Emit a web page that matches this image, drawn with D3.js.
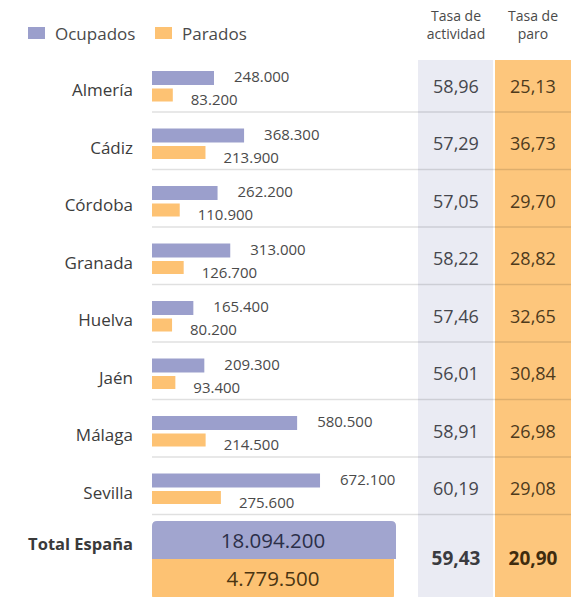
<!DOCTYPE html>
<html>
<head>
<meta charset="utf-8">
<script src="https://cdn.jsdelivr.net/npm/d3@7"></script>
<style>
  body { margin: 0; background: #fff; }
  svg text { font-family: "Open Sans", sans-serif; }
</style>
</head>
<body>
<div class="svg-div"></div>
<script>
// data
var regions = ["Almería", "Cádiz", "Córdoba", "Granada", "Huelva", "Jaén", "Málaga", "Sevilla"];
var ocupados = [248000, 368300, 262200, 313000, 165400, 209300, 580500, 672100];
var parados = [83200, 213900, 110900, 126700, 80200, 93400, 214500, 275600];
var tasaActividad = [58.96, 57.29, 57.05, 58.22, 57.46, 56.01, 58.91, 60.19];
var tasaParo = [25.13, 36.73, 29.70, 28.82, 32.65, 30.84, 26.98, 29.08];
var totalLabel = "Total España";
var totalOcupados = 18094200;
var totalParados = 4779500;
var totalActividad = 59.43;
var totalParo = 20.90;

var es = d3.formatLocale({decimal: ",", thousands: ".", grouping: [3], currency: ["", " €"]});
var fmtInt = es.format(",d");
var fmtDec = es.format(".2f");

var w = 577, h = 597;
var colOcu = "#9b9fcc", colPar = "#fdc273";
var colGray = "#eaebf3", colOrange = "#fdc67c";

var svg = d3.select(".svg-div")
	.append("svg")
	.attr("width", w)
	.attr("height", h);

// scales
var x = d3.scaleLinear().domain([0, 1000000]).range([152, 402]);
var y = d3.scaleBand().domain(regions).range([57.75, 57.75 + 57.5 * regions.length]);
var mid = function(r) { return y(r) + y.bandwidth() / 2; };

var rows = regions.map(function(r, i) {
	return {name: r, ocu: ocupados[i], par: parados[i], act: tasaActividad[i], paro: tasaParo[i]};
});

// column backgrounds
svg.append("rect").attr("x", 418).attr("y", 60).attr("width", 75).attr("height", h - 60).attr("fill", colGray);
svg.append("rect").attr("x", 495).attr("y", 60).attr("width", 76).attr("height", h - 60).attr("fill", colOrange);

// legend
var legend = [{k: "Ocupados", c: colOcu, x: 28}, {k: "Parados", c: colPar, x: 155}];
svg.selectAll(".leg-box").data(legend).enter().append("rect")
	.attr("x", function(d) { return d.x; })
	.attr("y", 27).attr("width", 17).attr("height", 12)
	.attr("fill", function(d) { return d.c; });
svg.selectAll(".leg-txt").data(legend).enter().append("text")
	.attr("x", function(d) { return d.x + 27; })
	.attr("y", 33)
	.attr("dominant-baseline", "central")
	.attr("font-size", 17).attr("fill", "#4a4a4a")
	.text(function(d) { return d.k; });

// headers
var heads = [{x: 456, l: ["Tasa de", "actividad"]}, {x: 533, l: ["Tasa de", "paro"]}];
heads.forEach(function(hd) {
	hd.l.forEach(function(t, j) {
		svg.append("text")
			.attr("x", hd.x).attr("y", 15 + j * 18)
			.attr("text-anchor", "middle").attr("dominant-baseline", "central")
			.attr("font-size", 14).attr("fill", "#4a4a4a")
			.text(t);
	});
});

// separators
svg.selectAll(".sep").data(rows).enter().append("line")
	.attr("x1", 152).attr("x2", 571)
	.attr("y1", function(d) { return mid(d.name) + 25.5; })
	.attr("y2", function(d) { return mid(d.name) + 25.5; })
	.attr("stroke", "#000").attr("stroke-opacity", 0.12).attr("stroke-width", 1.5);

// region labels
svg.selectAll(".reg").data(rows).enter().append("text")
	.attr("x", 133)
	.attr("y", function(d) { return mid(d.name) + 3; })
	.attr("text-anchor", "end").attr("dominant-baseline", "central")
	.attr("font-size", 17).attr("fill", "#3c3c3c")
	.text(function(d) { return d.name; });

// bars
svg.selectAll(".bar-ocu").data(rows).enter().append("rect")
	.attr("x", x(0))
	.attr("y", function(d) { return mid(d.name) - 15.5; })
	.attr("width", function(d) { return x(d.ocu) - x(0); })
	.attr("height", 14)
	.attr("fill", colOcu);
svg.selectAll(".bar-par").data(rows).enter().append("rect")
	.attr("x", x(0))
	.attr("y", function(d) { return mid(d.name) + 2; })
	.attr("width", function(d) { return x(d.par) - x(0); })
	.attr("height", 13)
	.attr("fill", colPar);

// bar values
svg.selectAll(".val-ocu").data(rows).enter().append("text")
	.attr("x", function(d) { return x(d.ocu) + 20; })
	.attr("y", function(d) { return mid(d.name) - 10.5; })
	.attr("dominant-baseline", "central")
	.attr("font-size", 15).attr("fill", "#4a4a4a")
	.text(function(d) { return fmtInt(d.ocu); });
svg.selectAll(".val-par").data(rows).enter().append("text")
	.attr("x", function(d) { return x(d.par) + 18; })
	.attr("y", function(d) { return mid(d.name) + 12.5; })
	.attr("dominant-baseline", "central")
	.attr("font-size", 15).attr("fill", "#4a4a4a")
	.text(function(d) { return fmtInt(d.par); });

// rates
svg.selectAll(".act").data(rows).enter().append("text")
	.attr("x", 456)
	.attr("y", function(d) { return mid(d.name) - 1; })
	.attr("text-anchor", "middle").attr("dominant-baseline", "central")
	.attr("font-size", 18).attr("fill", "#45464c")
	.text(function(d) { return fmtDec(d.act); });
svg.selectAll(".paro").data(rows).enter().append("text")
	.attr("x", 533)
	.attr("y", function(d) { return mid(d.name) - 1; })
	.attr("text-anchor", "middle").attr("dominant-baseline", "central")
	.attr("font-size", 18).attr("fill", "#4d3a1c")
	.text(function(d) { return fmtDec(d.paro); });

// total row
var r = 5;
function topRounded(x0, y0, x1, y1) {
	return "M" + x0 + "," + y1 + "V" + (y0 + r) + "Q" + x0 + "," + y0 + " " + (x0 + r) + "," + y0 +
		"H" + (x1 - r) + "Q" + x1 + "," + y0 + " " + x1 + "," + (y0 + r) + "V" + y1 + "Z";
}
function bottomRounded(x0, y0, x1, y1) {
	return "M" + x0 + "," + y0 + "H" + x1 + "V" + (y1 - r) + "Q" + x1 + "," + y1 + " " + (x1 - r) + "," + y1 +
		"H" + (x0 + r) + "Q" + x0 + "," + y1 + " " + x0 + "," + (y1 - r) + "Z";
}
svg.append("path").attr("d", topRounded(152, 521, 396, 559)).attr("fill", "#a1a5cf");
svg.append("path").attr("d", bottomRounded(152, 559, 394, 600)).attr("fill", colPar);

svg.append("text")
	.attr("x", 133).attr("y", 543)
	.attr("text-anchor", "end").attr("dominant-baseline", "central")
	.attr("font-size", 16.5).attr("font-weight", "bold").attr("fill", "#3a3a3a")
	.text(totalLabel);
svg.append("text")
	.attr("x", 273).attr("y", 540)
	.attr("text-anchor", "middle").attr("dominant-baseline", "central")
	.attr("font-size", 20.5).attr("fill", "#2b2f48")
	.text(fmtInt(totalOcupados));
svg.append("text")
	.attr("x", 273).attr("y", 578)
	.attr("text-anchor", "middle").attr("dominant-baseline", "central")
	.attr("font-size", 20.5).attr("fill", "#4a3512")
	.text(fmtInt(totalParados));
svg.append("text")
	.attr("x", 456).attr("y", 558)
	.attr("text-anchor", "middle").attr("dominant-baseline", "central")
	.attr("font-size", 19).attr("font-weight", "bold").attr("fill", "#3a3b40")
	.text(fmtDec(totalActividad));
svg.append("text")
	.attr("x", 533).attr("y", 558)
	.attr("text-anchor", "middle").attr("dominant-baseline", "central")
	.attr("font-size", 19).attr("font-weight", "bold").attr("fill", "#3f2c0e")
	.text(fmtDec(totalParo));
</script>
</body>
</html>
